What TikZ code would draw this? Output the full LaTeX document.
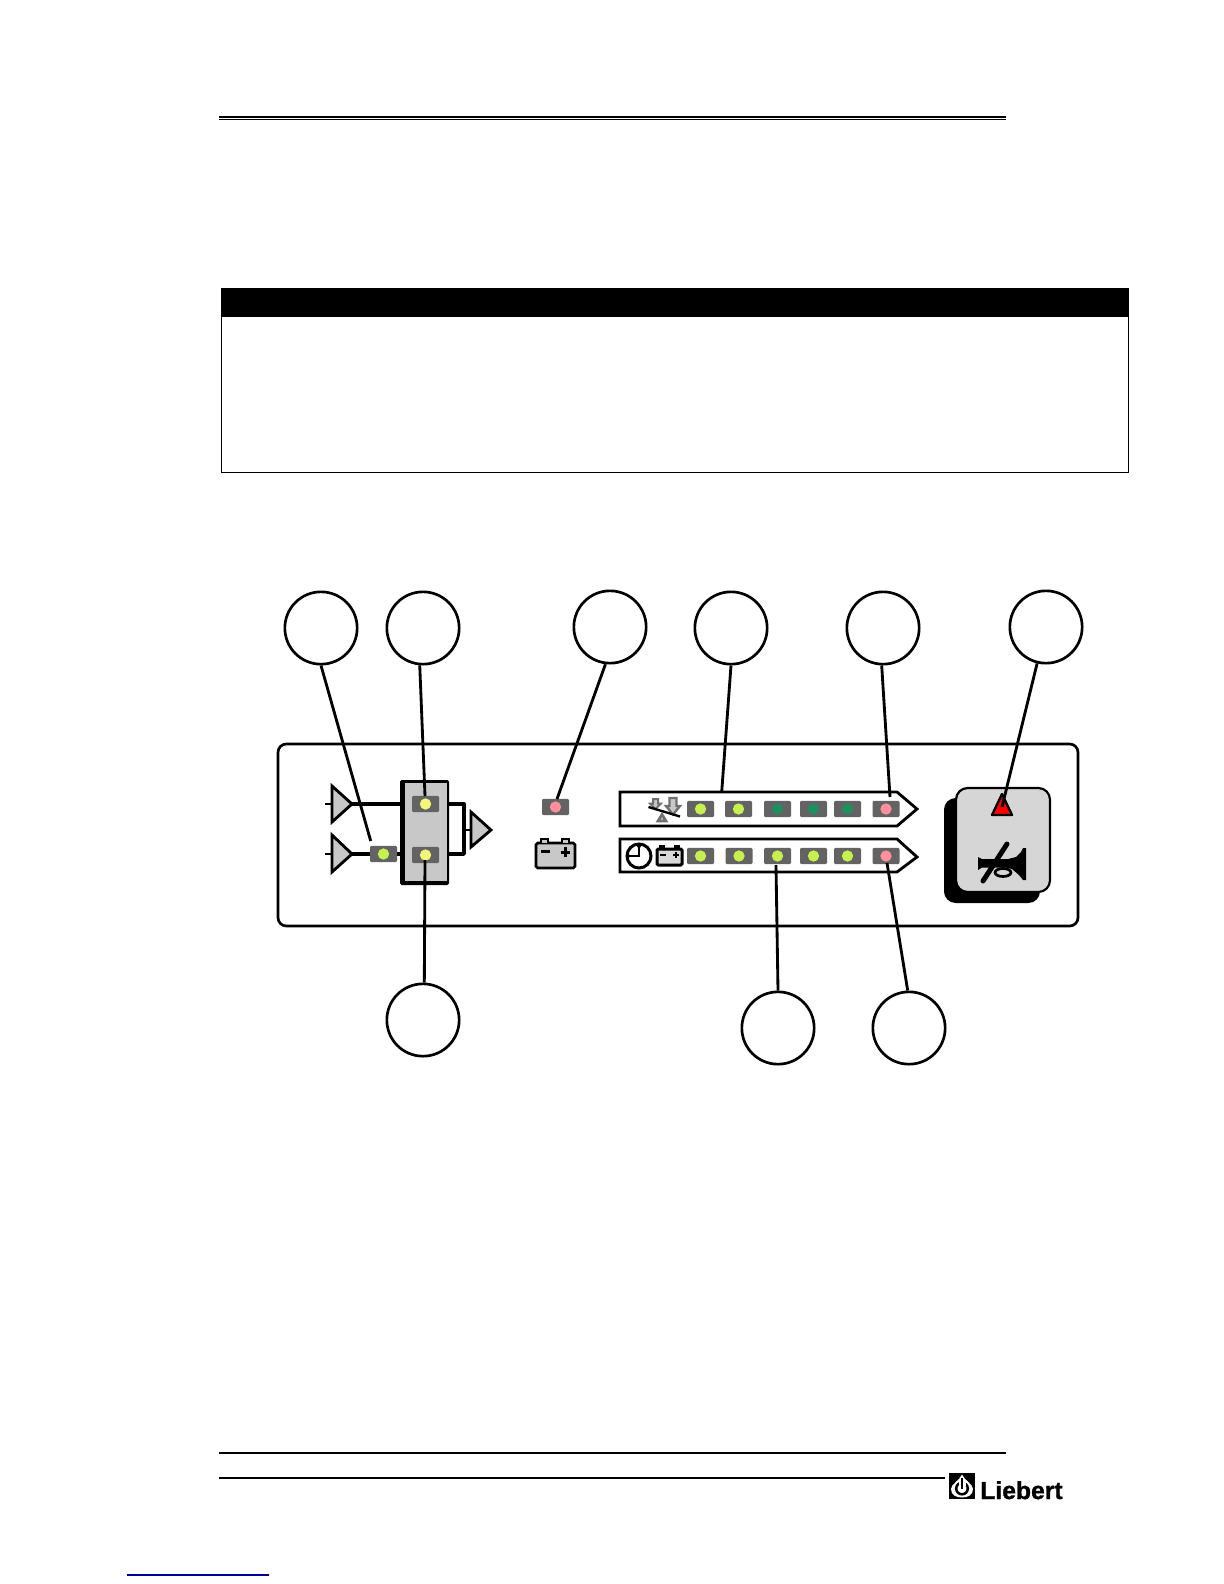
\documentclass[tikz,border=0pt]{standalone}
\usepackage{fontspec}
\setmainfont{Liberation Sans}
\newfontfamily\logofont[FakeBold=1.2]{Liberation Sans Bold}
\definecolor{ledbody}{HTML}{636363}
\definecolor{lime}{HTML}{C6F04F}
\definecolor{yel}{HTML}{F2F77A}
\definecolor{dkgreen}{HTML}{1F8F5F}
\definecolor{pinkled}{HTML}{FF8F9A}
\definecolor{panelgray}{HTML}{C8C8C8}
\definecolor{keygray}{HTML}{D6D6D6}
\definecolor{icongray}{HTML}{707070}
\tikzset{
  callout/.style={circle,draw=black,line width=1.6pt,fill=white,minimum size=43.4pt,inner sep=0pt},
  leader/.style={line width=1.7pt,black},
  wire/.style={line width=2pt,black,line join=round},
  stub/.style={line width=1.3pt,black},
  ledbox/.style={rectangle,fill=ledbody,minimum width=16.2pt,minimum height=9.8pt,inner sep=0pt,rounded corners=0.8pt},
  leddot/.style={circle,fill=#1,minimum size=6.8pt,inner sep=0pt},
  tri/.style={draw=black,line width=1.7pt,fill=panelgray,line join=miter},
  bar/.style={draw=black,line width=1.7pt,fill=white,line join=miter},
  rule/.style={line width=0.7pt,black}
}
\begin{document}
\begin{tikzpicture}[x=0.6pt,y=-0.6pt]
\useasboundingbox[fill=white] (0,0) rectangle (1224,1584);
% header rule
\fill[black] (219,116) rectangle (1006,118.2);
\fill[black] (219,119.2) rectangle (1006,120.4);
% table box
\draw[line width=0.6pt] (221,288) rectangle (1128,472);
\fill[black] (221,288) rectangle (1128,317);
% panel
\draw[line width=1.6pt,rounded corners=5pt] (278,744) rectangle (1078,926);
% triangles and wires
\draw[stub] (325,804) -- (332,804);
\draw[stub] (325,854) -- (332,854);
\draw[wire] (352,804) -- (401,804);
\draw[wire] (352,854) -- (372,854);
\draw[wire] (397,854) -- (401,854);
\draw[wire] (448,804) -- (464,804) -- (464,854) -- (448,854);
\draw[stub] (464,830) -- (471,830);
\draw[tri] (332,786) -- (352,804) -- (332,822) -- cycle;
\draw[tri] (332,835) -- (352,854) -- (332,872) -- cycle;
\draw[tri] (471,812) -- (491,830) -- (471,847) -- cycle;
% mux block
\fill[black,rounded corners=1pt] (400,780) rectangle (449,885);
\fill[panelgray] (404.5,782.5) rectangle (447,881);
% LEDs
\foreach \nm/\x/\y/\col in {inA/383.5/854/lime,muxT/425.5/804/yel,muxB/425.5/855/yel,bat/555.5/807/pinkled}{
  \node[ledbox] (\nm) at (\x,\y) {};
  \node[leddot=\col] (\nm dot) at (\x,\y) {};
}
% battery icon
\draw[line width=1.6pt,fill=panelgray,rounded corners=1pt] (536,843) rectangle (575,868);
\draw[line width=1.6pt,fill=panelgray] (541,843) -- (541,839) -- (548,839) -- (548,843);
\draw[line width=1.6pt,fill=panelgray] (562,843) -- (562,839) -- (569,839) -- (569,843);
\draw[line width=1.8pt] (541,851) -- (550,851) (561,852) -- (570,852) (565.5,847) -- (565.5,857);
% bars
\draw[bar] (620,792) -- (897,792) -- (917,809) -- (897,826) -- (620,826) -- cycle;
\draw[bar] (620,839) -- (897,839) -- (917,857) -- (897,872) -- (620,872) -- cycle;
\foreach \nm/\x/\y/\col in {aA/700.5/809/lime,aB/738.5/809/lime,aC/777.5/809/dkgreen,aD/813.5/809/dkgreen,aE/847.5/809/dkgreen,aF/886/809/pinkled,
  bA/700.5/856/lime,bB/739/856/lime,bC/777.5/856/lime,bD/813.5/856/lime,bE/847.5/856/lime,bF/886/856/pinkled}{
  \node[ledbox] (\nm) at (\x,\y) {};
  \node[leddot=\col] (\nm dot) at (\x,\y) {};
}
% balance icon
\draw[icongray,line width=1.2pt,fill=panelgray] (653,799) -- (658,799) -- (658,803.5) -- (661,803.5) -- (655.5,809) -- (650,803.5) -- (653,803.5) -- cycle;
\draw[icongray,line width=1.4pt,fill=panelgray] (669.5,798) -- (676.5,798) -- (676.5,806) -- (680,806) -- (673,814.5) -- (666,806) -- (669.5,806) -- cycle;
\draw[icongray,line width=1.6pt,fill=panelgray] (662,814.5) -- (666,821) -- (658,821) -- cycle;
\draw[line width=1.4pt] (648.5,807) -- (680,816.5);
% clock and battery icon
\draw[line width=1.8pt,fill=white] (639,856) circle[radius=12];
\draw[line width=1.5pt] (639,845) -- (639,856) -- (628,856);
\fill (639,846) circle[radius=2];
\fill (628,856) circle[radius=2];
\draw[line width=1.8pt,fill=panelgray!70,rounded corners=0.8pt] (657,849) rectangle (682,865);
\draw[line width=1.6pt] (660,849) -- (660,846.5) -- (664,846.5) -- (664,849) (675,849) -- (675,846.5) -- (679,846.5) -- (679,849);
\draw[line width=1.1pt] (660,855) -- (666,855) (673,855) -- (679,855) (676,852) -- (676,858);
% key
\fill[black,rounded corners=7pt] (944,798) rectangle (1040,903);
\draw[line width=1.3pt,fill=keygray,rounded corners=7pt] (956,788) rectangle (1050,892);
\draw[line width=1.4pt,fill=red,line join=round] (1002,794) -- (1012,815) -- (992,815) -- cycle;
% horn
\fill[black] (978,857) -- (982,859) -- (1008,859) -- (1016,857) -- (1021,852) -- (1023,848) -- (1026,848) -- (1026,880) -- (1023,880) -- (1019,875) -- (1012,869) -- (1006,867.5) -- (982,867.5) -- (978,870) -- cycle;
\draw[line width=1.6pt,black,fill=keygray] (1003,872.5) ellipse[x radius=8,y radius=4];
\draw[line width=3pt,black,line cap=round] (1007,844) -- (983,881);
% callouts
\node[callout] (c1) at (321,628) {};
\node[callout] (c2) at (423,628) {};
\node[callout] (c3) at (610,627) {};
\node[callout] (c4) at (731,628) {};
\node[callout] (c5) at (883,628) {};
\node[callout] (c6) at (1046,627) {};
\node[callout] (c7) at (423,1020) {};
\node[callout] (c8) at (778,1028) {};
\node[callout] (c9) at (909,1028) {};
\coordinate (e1) at (370.7,841);
\coordinate (e2) at (425,796);
\coordinate (e3) at (557,799);
\coordinate (e4) at (721.7,792);
\coordinate (e5) at (890,797);
\coordinate (e6) at (1002,807);
\coordinate (e7) at (425,860);
\coordinate (e8) at (776,865);
\coordinate (e9) at (887,863);
\draw[leader] (c1.270) -- (e1);
\draw[leader] (c2.265) -- (e2);
\draw[leader] (c3.263) -- (e3);
\draw[leader] (c4.270) -- (e4);
\draw[leader] (c5.268) -- (e5);
\draw[leader] (c6) -- (e6);
\draw[leader] (c7.88) -- (e7);
\draw[leader] (c8.90) -- (e8);
\draw[leader] (c9.92) -- (e9);
% footer
\draw[rule] (219,1453) -- (1006,1453);
\draw[rule] (219,1478) -- (945,1478);
% logo
\fill[black] (949,1473) rectangle (975,1499);
\fill[white] (962,1474.5) .. controls (964,1480) and (973,1484) .. (973,1489) .. controls (973,1495) and (968,1497.5) .. (962,1497.5) .. controls (956,1497.5) and (951,1495) .. (951,1489) .. controls (951,1484) and (960,1480) .. (962,1474.5) -- cycle;
\draw[line width=1.5pt,black] (962,1488.5) circle[radius=5.8];
\fill[white] (958.5,1480) rectangle (965.5,1486);
\draw[line width=1.5pt,black] (962,1478) -- (962,1489);
\node[anchor=base west,inner sep=0pt,font=\fontsize{14.8}{16}\logofont] (logo) at (980,1499) {Liebert};
% link rule
\draw[line width=0.7pt,color={rgb,255:red,0;green,0;blue,153}] (127,1575) -- (269,1575);
\end{tikzpicture}
\end{document}
